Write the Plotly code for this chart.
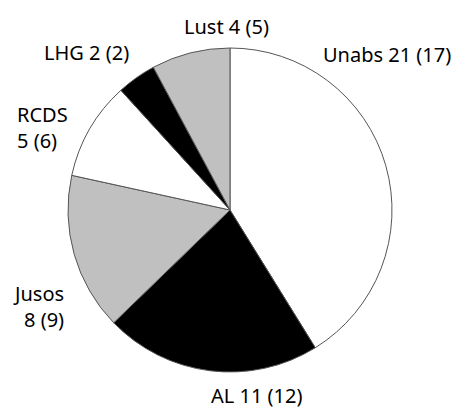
import plotly.graph_objects as go

# Data
labels = ["Unabs", "AL", "Jusos", "RCDS", "LHG", "Lust"]
values = [21, 11, 8, 5, 2, 4]
previous = [17, 12, 9, 6, 2, 5]
colors = ["#ffffff", "#000000", "#c0c0c0", "#ffffff", "#000000", "#c0c0c0"]

W, H = 456, 408

fig = go.Figure(go.Pie(
    labels=labels,
    values=values,
    sort=False,
    direction="clockwise",
    rotation=0,
    marker=dict(colors=colors, line=dict(color="#555555", width=1)),
    textinfo="none",
    hoverinfo="label+value",
    showlegend=False,
    domain=dict(x=[68 / W, 392 / W], y=[36 / H, 360 / H]),
))

# label placement (pixel positions of label centres) and line layout
label_pos = {
    "Unabs": (387, 55, "center", False),
    "AL": (256, 395, "center", False),
    "Jusos": (40, 306, "right", True),
    "RCDS": (40, 127, "left", True),
    "LHG": (86, 53, "center", False),
    "Lust": (226, 27, "center", False),
}
font = dict(family="Noto Sans, DejaVu Sans, sans-serif", size=20, color="#000000")
for lab, val, prev in zip(labels, values, previous):
    px, py, al, two = label_pos[lab]
    txt = f"{lab}<br>{val} ({prev})" if two else f"{lab} {val} ({prev})"
    if al == "left":
        xa, xx = "left", 15 / W
    elif al == "right":
        xa, xx = "right", 66 / W
    else:
        xa, xx = "center", px / W
    fig.add_annotation(
        text=txt, x=xx, y=1 - py / H, xref="paper", yref="paper",
        xanchor=xa, yanchor="middle", align=al, showarrow=False, font=font,
    )

fig.update_layout(
    width=W, height=H,
    margin=dict(l=0, r=0, t=0, b=0),
    paper_bgcolor="#ffffff",
    plot_bgcolor="#ffffff",
)

fig.write_html("out.html", config={"displayModeBar": False},
               post_script="document.body.style.margin='0px';")
